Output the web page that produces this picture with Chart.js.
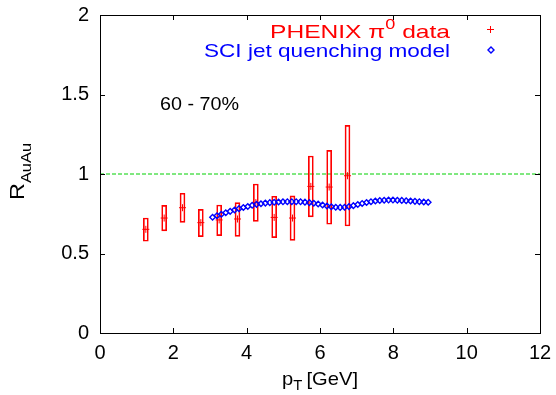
<!DOCTYPE html>
<html>
<head>
<meta charset="utf-8">
<script src="https://cdn.jsdelivr.net/npm/chart.js@4/dist/chart.umd.min.js"></script>
<style>
  html, body { margin: 0; padding: 0; background: #fff; }
  #wrap { width: 556px; height: 395px; }
</style>
</head>
<body>
<div id="wrap"><canvas id="raa"></canvas></div>
<script>
// PHENIX pi0 R_AuAu, 60-70% centrality
const dataPt = [1.25, 1.75, 2.25, 2.75, 3.25, 3.75, 4.25, 4.75, 5.25, 5.75, 6.25, 6.75];
const dataRaa = [0.652, 0.723, 0.788, 0.694, 0.711, 0.717, 0.82, 0.727, 0.723, 0.922, 0.918, 0.989];
const sysLow = [0.577, 0.642, 0.696, 0.606, 0.612, 0.608, 0.702, 0.600, 0.583, 0.730, 0.684, 0.673];
const sysHigh = [0.723, 0.803, 0.879, 0.778, 0.805, 0.820, 0.937, 0.860, 0.862, 1.113, 1.149, 1.306];

// SCI jet quenching model curve
const modelPt = [3.07, 3.19, 3.31, 3.43, 3.55, 3.67, 3.79, 3.91, 4.03, 4.15,
                 4.27, 4.39, 4.51, 4.63, 4.75, 4.87, 4.99, 5.11, 5.23, 5.35,
                 5.47, 5.59, 5.71, 5.83, 5.95, 6.07, 6.19, 6.31, 6.43, 6.55,
                 6.67, 6.79, 6.91, 7.03, 7.15, 7.27, 7.39, 7.51, 7.63, 7.75,
                 7.87, 7.99, 8.11, 8.23, 8.35, 8.47, 8.59, 8.71, 8.83, 8.95];
const modelRaa = [0.728, 0.737, 0.747, 0.756, 0.765, 0.774, 0.782, 0.789, 0.796, 0.803,
                  0.809, 0.813, 0.817, 0.820, 0.822, 0.824, 0.825, 0.826, 0.826, 0.826,
                  0.825, 0.823, 0.820, 0.816, 0.811, 0.805, 0.799, 0.794, 0.791, 0.790,
                  0.791, 0.795, 0.801, 0.808, 0.815, 0.821, 0.826, 0.830, 0.833, 0.835,
                  0.836, 0.836, 0.835, 0.834, 0.832, 0.830, 0.828, 0.826, 0.824, 0.822];

const xTicks = [0, 2, 4, 6, 8, 10, 12];
const yTicks = [0, 0.5, 1, 1.5, 2];

const FONT = 'Liberation Sans, Arial, Helvetica, sans-serif';
const RED = '#ff0000';
const BLUE = '#0000ff';

// draws a run of text pieces (with sub/superscripts), stretched to a given width
function drawRich(ctx, parts, x, y, width, align) {
  let natural = 0;
  parts.forEach(p => {
    ctx.font = p.size + 'px ' + FONT;
    p.w = ctx.measureText(p.text).width;
    natural += p.w + (p.gap || 0);
  });
  const sx = width ? width / natural : 1;
  const startX = align === 'right' ? x - natural * sx : x;
  ctx.save();
  ctx.translate(startX, y);
  ctx.scale(sx, 1);
  ctx.textAlign = 'left';
  let cx = 0;
  parts.forEach(p => {
    ctx.font = p.size + 'px ' + FONT;
    ctx.fillText(p.text, cx, p.dy || 0);
    cx += p.w + (p.gap || 0);
  });
  ctx.restore();
}

// frame, inward ticks, axis titles, legend and centrality label
const decorations = {
  id: 'decorations',
  afterDraw(chart) {
    const ctx = chart.ctx;
    const a = chart.chartArea;
    const xs = chart.scales.x, ys = chart.scales.y;
    ctx.save();
    ctx.strokeStyle = '#000';
    ctx.lineWidth = 1;
    ctx.strokeRect(Math.round(a.left) + 0.5, Math.round(a.top) + 0.5,
                   Math.round(a.right - a.left), Math.round(a.bottom - a.top));
    const tl = 5;
    ctx.beginPath();
    xTicks.forEach(v => {
      const px = Math.round(xs.getPixelForValue(v)) + 0.5;
      ctx.moveTo(px, a.bottom); ctx.lineTo(px, a.bottom - tl);
      ctx.moveTo(px, a.top); ctx.lineTo(px, a.top + tl);
    });
    yTicks.forEach(v => {
      const py = Math.round(ys.getPixelForValue(v)) + 0.5;
      ctx.moveTo(a.left, py); ctx.lineTo(a.left + tl, py);
      ctx.moveTo(a.right, py); ctx.lineTo(a.right - tl, py);
    });
    ctx.stroke();

    ctx.fillStyle = '#000';
    ctx.textBaseline = 'alphabetic';

    // x title: p_T [GeV]
    drawRich(ctx, [
      { text: 'p', size: 19 },
      { text: 'T', size: 14, dy: 5, gap: 4 },
      { text: '[GeV]', size: 19 }
    ], 282, 385, 76, 'left');

    // y title: R_AuAu, rotated
    ctx.save();
    ctx.translate(24, 200);
    ctx.rotate(-Math.PI / 2);
    drawRich(ctx, [
      { text: 'R', size: 20 },
      { text: 'AuAu', size: 14, dy: 7 }
    ], 0, 0, 57, 'left');
    ctx.restore();

    // centrality label
    drawRich(ctx, [{ text: '60 - 70%', size: 19 }], 160, 110, 79, 'left');

    // legend
    ctx.fillStyle = RED;
    drawRich(ctx, [
      { text: 'PHENIX \u03c0', size: 19 },
      { text: '0', size: 14, dy: -9 },
      { text: ' data', size: 19 }
    ], 450, 38, 180, 'right');
    ctx.fillStyle = BLUE;
    drawRich(ctx, [{ text: 'SCI jet quenching model', size: 19 }], 450, 57, 246, 'right');

    // legend markers
    ctx.strokeStyle = RED;
    ctx.lineWidth = 1;
    ctx.beginPath();
    ctx.moveTo(487, 29.5); ctx.lineTo(494, 29.5);
    ctx.moveTo(490.5, 26); ctx.lineTo(490.5, 33);
    ctx.stroke();
    ctx.strokeStyle = BLUE;
    ctx.lineWidth = 1.4;
    ctx.beginPath();
    ctx.moveTo(491, 47); ctx.lineTo(494, 50); ctx.lineTo(491, 53); ctx.lineTo(488, 50);
    ctx.closePath();
    ctx.stroke();
    ctx.restore();
  }
};

new Chart(document.getElementById('raa'), {
  type: 'scatter',
  data: {
    datasets: [
      {
        type: 'line',
        data: [{ x: 0, y: 1 }, { x: 12, y: 1 }],
        borderColor: '#00d000',
        backgroundColor: '#00d000',
        borderWidth: 1,
        borderDash: [4, 2],
        pointRadius: 0,
        fill: false,
        order: 4
      },
      {
        type: 'bar',
        data: dataPt.map((p, i) => ({ x: p, y: [sysLow[i], sysHigh[i]] })),
        borderColor: RED,
        backgroundColor: 'rgba(0,0,0,0)',
        borderWidth: 1,
        borderSkipped: false,
        barThickness: 5,
        grouped: false,
        order: 3
      },
      {
        type: 'scatter',
        data: dataPt.map((p, i) => ({ x: p, y: dataRaa[i] })),
        pointStyle: 'cross',
        radius: 3.5,
        borderColor: RED,
        borderWidth: 1,
        order: 2
      },
      {
        type: 'scatter',
        data: modelPt.map((p, i) => ({ x: p, y: modelRaa[i] })),
        pointStyle: 'rectRot',
        radius: 2.8,
        borderColor: BLUE,
        backgroundColor: 'rgba(255,255,255,0)',
        borderWidth: 1.4,
        order: 1
      }
    ]
  },
  options: {
    responsive: true,
    maintainAspectRatio: false,
    animation: false,
    events: [],
    layout: { padding: { left: 0, right: 16, top: 15, bottom: 0 } },
    plugins: {
      legend: { display: false },
      tooltip: { enabled: false }
    },
    scales: {
      x: {
        type: 'linear',
        min: 0, max: 12,
        offset: false,
        afterBuildTicks: s => { s.ticks = xTicks.map(v => ({ value: v })); },
        grid: { display: false, drawTicks: false },
        border: { display: false },
        ticks: { color: '#000', font: { family: FONT, size: 20 }, padding: 8, maxRotation: 0,
                 callback: v => String(v) },
        afterFit: s => { s.height = 62; s.paddingLeft = 0; s.paddingRight = 0; }
      },
      y: {
        type: 'linear',
        min: 0, max: 2,
        afterBuildTicks: s => { s.ticks = yTicks.map(v => ({ value: v })); },
        grid: { display: false, drawTicks: false },
        border: { display: false },
        ticks: { color: '#000', font: { family: FONT, size: 20 }, padding: 11,
                 callback: v => String(v) },
        afterFit: s => { s.width = 100; s.paddingTop = 0; s.paddingBottom = 0; }
      }
    }
  },
  plugins: [decorations]
});
</script>
</body>
</html>
